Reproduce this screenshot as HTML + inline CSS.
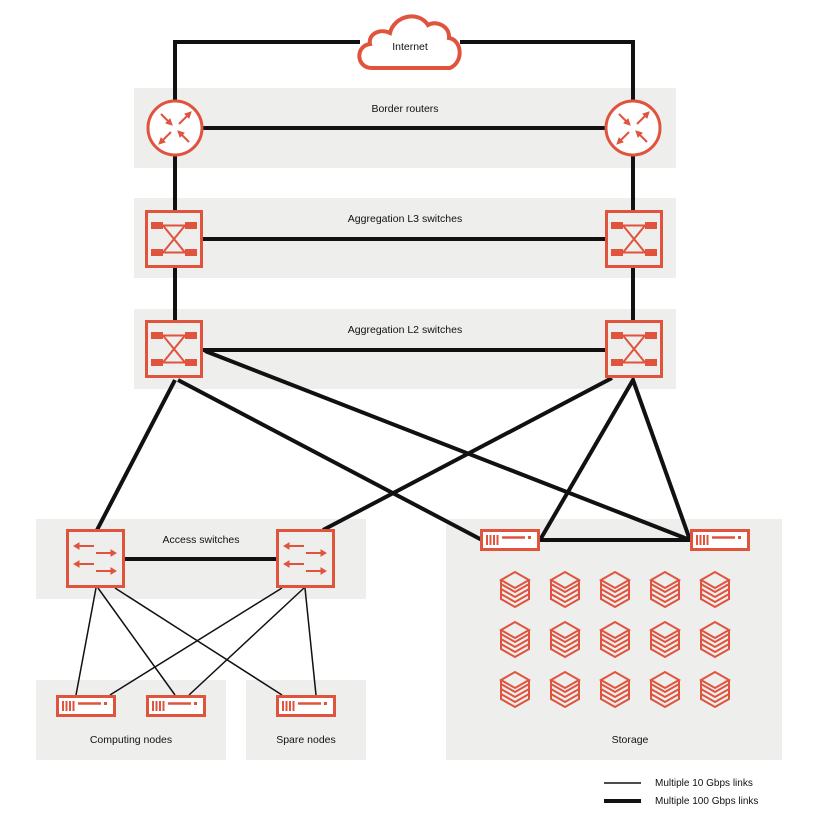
<!DOCTYPE html>
<html><head><meta charset="utf-8"><style>
html,body{margin:0;padding:0;background:#fff;}
svg{display:block;}
text{font-family:"Liberation Sans",sans-serif;font-size:10.5px;fill:#111;text-anchor:middle;}
</style></head><body>
<svg width="820" height="820" viewBox="0 0 820 820" xmlns="http://www.w3.org/2000/svg">
<defs>
<g id="sw">
 <rect x="1.5" y="1.5" width="55" height="55" fill="#eeeeed" stroke="#e0533d" stroke-width="3"/>
 <rect x="6" y="12" width="12" height="7" fill="#e0533d"/><rect x="40" y="12" width="12" height="7" fill="#e0533d"/>
 <rect x="6" y="39" width="12" height="7" fill="#e0533d"/><rect x="40" y="39" width="12" height="7" fill="#e0533d"/>
 <path d="M18 15.5H40M18 42.5H40M18 15.5L40 42.5M18 42.5L40 15.5" stroke="#e0533d" stroke-width="2" fill="none"/>
</g>
<g id="acc">
 <rect x="1.5" y="1.5" width="56" height="56" fill="#eeeeed" stroke="#e0533d" stroke-width="3"/>
 <g stroke="#e0533d" stroke-width="2" fill="#e0533d">
 <path d="M10 17H28M30 24H48M10 35H28M30 42H48" fill="none"/>
 <path d="M8 17L13 14V20Z M50 24L45 21V27Z M8 35L13 32V38Z M50 42L45 39V45Z" stroke-width="1"/>
 </g>
</g>
<g id="srv">
 <rect x="1.5" y="1.5" width="57" height="19" fill="#fff" stroke="#e0533d" stroke-width="3"/>
 <path d="M7 6V16M10.5 6V16M14 6V16M17.5 6V16" stroke="#e0533d" stroke-width="2"/>
 <path d="M22 8.5H45" stroke="#e0533d" stroke-width="2.5"/>
 <rect x="48" y="7" width="3" height="3" fill="#e0533d"/>
</g>
<g id="db" fill="none" stroke="#e0533d" stroke-width="2">
 <path d="M0 8L14 0L28 8L14 16Z"/>
 <path d="M0 8V12L14 20L28 12V8"/>
 <path d="M0 12V17L14 25L28 17V12"/>
 <path d="M0 17V22L14 30L28 22V17"/>
 <path d="M0 22V27L14 35L28 27V22"/>
</g>
<g id="rt">
 <circle cx="0" cy="0" r="27" fill="#fff" stroke="#e0533d" stroke-width="3"/>
 <g stroke="#e0533d" stroke-width="2" fill="#e0533d">
 <path d="M-14 -14L-4 -4M4 4L14 14M4 -4L14 -14M-4 4L-14 14" fill="none"/>
 <path d="M-3 -3L-9 -5L-5 -9Z M3 3L9 5L5 9Z M16 -16L10 -14L14 -10Z M-16 16L-14 10L-10 14Z" stroke-width="1"/>
 </g>
</g>
</defs>
<g fill="#eeeeed">
<rect x="134" y="88" width="542" height="80"/>
<rect x="134" y="198" width="542" height="80"/>
<rect x="134" y="309" width="542" height="80"/>
<rect x="36" y="519" width="330" height="80"/>
<rect x="36" y="680" width="190" height="80"/>
<rect x="246" y="680" width="120" height="80"/>
<rect x="446" y="519" width="336" height="241"/>
</g>
<g stroke="#111" stroke-width="4" fill="none">
<path d="M175 128V42H360M460 42H633V128"/>
<path d="M175 128H633"/>
<path d="M175 128V378M633 128V378"/>
<path d="M203 239H605"/>
<path d="M203 350H605"/>
<path d="M175 380L97 530"/>
<path d="M178 380L482 540"/>
<path d="M205 351L690 540"/>
<path d="M612 378L323 530"/>
<path d="M633 380L540 540H690L633 380Z"/>
<path d="M125 559H276"/>
<path d="M604 801H641"/>
</g>
<g stroke="#111" stroke-width="1.5" fill="none">
<path d="M96 588L76 695M98 588L175 695M115 588L282 695"/>
<path d="M282 588L110 695M304 588L189 695M305 588L316 695"/>
<path d="M604 783H641"/>
</g>
<path d="M372 68C356 68 355 46 370 44C368 34 380 28 390 33C394 16 418 10 428 25C436 20 450 26 449 38C462 40 464 62 450 68Z" fill="#fff" stroke="#e0533d" stroke-width="4"/>
<text x="410" y="50">Internet</text>
<use href="#rt" x="175" y="128"/><use href="#rt" x="633" y="128"/>
<use href="#sw" x="145" y="210"/><use href="#sw" x="605" y="210"/>
<use href="#sw" x="145" y="320"/><use href="#sw" x="605" y="320"/>
<use href="#acc" x="66" y="529"/><use href="#acc" x="276" y="529"/>
<use href="#srv" x="480" y="529"/><use href="#srv" x="690" y="529"/>
<use href="#srv" x="56" y="695"/><use href="#srv" x="146" y="695"/><use href="#srv" x="276" y="695"/>
<g>
<use href="#db" x="501" y="572"/><use href="#db" x="551" y="572"/><use href="#db" x="601" y="572"/><use href="#db" x="651" y="572"/><use href="#db" x="701" y="572"/>
<use href="#db" x="501" y="622"/><use href="#db" x="551" y="622"/><use href="#db" x="601" y="622"/><use href="#db" x="651" y="622"/><use href="#db" x="701" y="622"/>
<use href="#db" x="501" y="672"/><use href="#db" x="551" y="672"/><use href="#db" x="601" y="672"/><use href="#db" x="651" y="672"/><use href="#db" x="701" y="672"/>
</g>
<text x="405" y="112">Border routers</text>
<text x="405" y="222">Aggregation L3 switches</text>
<text x="405" y="333">Aggregation L2 switches</text>
<text x="201" y="543">Access switches</text>
<text x="131" y="743">Computing nodes</text>
<text x="306" y="743">Spare nodes</text>
<text x="630" y="743">Storage</text>
<text x="655" y="786" style="text-anchor:start;font-size:10px">Multiple 10 Gbps links</text>
<text x="655" y="804" style="text-anchor:start;font-size:10px">Multiple 100 Gbps links</text>
</svg>
</body></html>
